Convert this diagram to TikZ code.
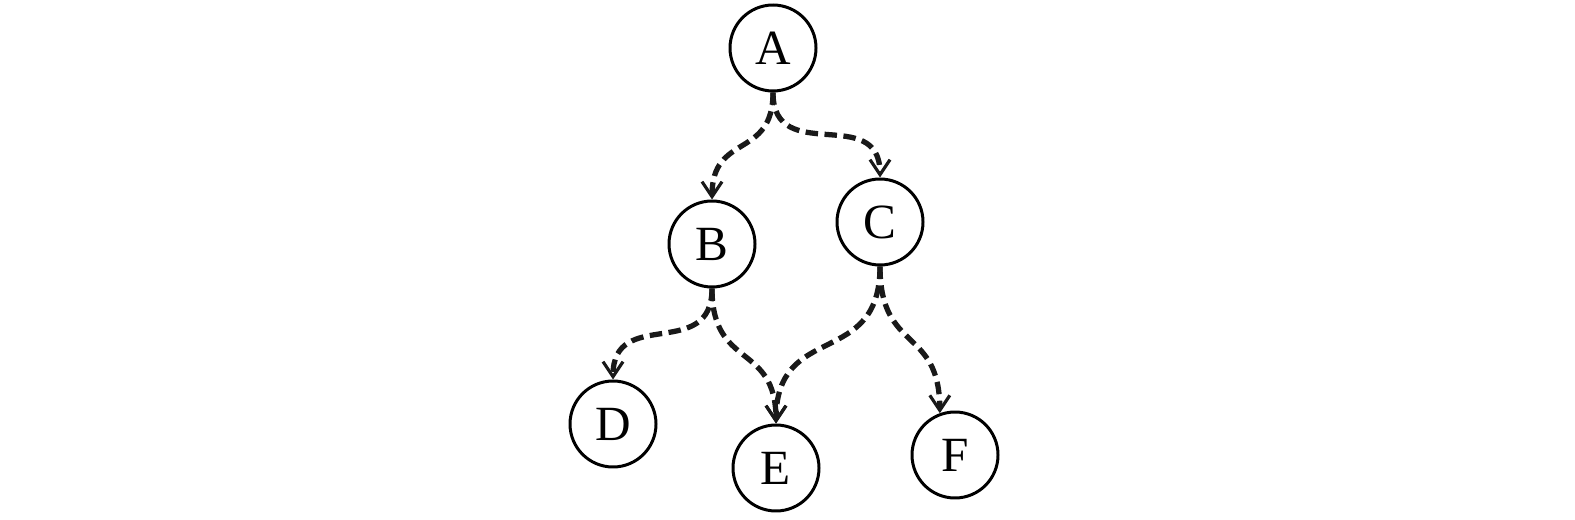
\documentclass[tikz,border=0pt]{standalone}
\usepackage{fontspec}
\setmainfont{Liberation Serif}
\usetikzlibrary{arrows.meta}
\tikzset{
	vertex/.style={draw, circle, line width=1.7pt, minimum size=1.72cm, inner sep=0pt, font=\fontsize{28}{30}\selectfont},
	dep/.style={line width=3pt, dash pattern=on 0.25cm off 0.13cm, draw=black!90, -{Straight Barb[length=0.3cm, width=0.4cm, line width=1.8pt]}, out=-90, in=90, looseness=1.4}
}
\begin{document}
\begin{tikzpicture}
		\useasboundingbox (0,0) rectangle (31.5,-10.4);
		\node[vertex] (a) at (15.46,-0.96) {A};
		\node[vertex] (b) at (14.24,-4.88) {B};
		\node[vertex] (c) at (17.60,-4.44) {C};
		\node[vertex] (d) at (12.26,-8.48) {D};
		\node[vertex] (e) at (15.52,-9.36) {E};
		\node[vertex] (f) at (19.10,-9.10) {F};
		\draw[dep] (a.south) to (b.north);
		\draw[dep] (a.south) to (c.north);
		\draw[dep] (b.south) to (d.north);
		\draw[dep] (b.south) to (e.north);
		\draw[dep] (c.south) to (e.north);
		\draw[dep] (c.south) to (f.110);
		\end{tikzpicture}
\end{document}
